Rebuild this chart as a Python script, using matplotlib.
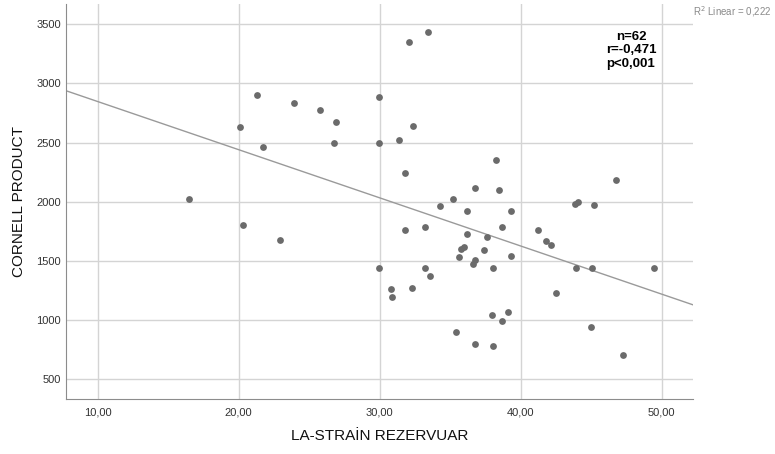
import numpy as np
import matplotlib
matplotlib.use("Agg")
import matplotlib.pyplot as plt
import matplotlib.ticker as ticker

plt.rcParams['font.family'] = ['Liberation Sans', 'DejaVu Sans']

# LA strain reservoir (%) vs Cornell product
la_strain = [16.45, 20.07, 21.30, 21.72, 20.30, 22.90, 23.90, 25.79, 26.88, 26.78,
             29.97, 29.97, 29.97, 30.80, 30.87, 31.39, 32.06, 33.40, 32.38, 31.77,
             36.74, 38.23, 38.48, 35.18, 34.28, 36.19, 39.29, 31.77, 33.19, 38.67,
             36.19, 37.59, 37.38, 35.79, 36.00, 35.60, 36.76, 36.60, 39.29, 33.19,
             33.59, 38.06, 32.29, 37.99, 39.08, 38.67, 35.43, 36.76, 38.06, 41.25,
             41.82, 42.17, 42.48, 43.90, 45.08, 49.48, 43.85, 44.09, 45.18, 46.74,
             44.96, 47.23]
cornell = [2025, 2633, 2904, 2465, 1801, 1680, 2833, 2771, 2670, 2498,
           2881, 2498, 1441, 1261, 1199, 2521, 3351, 3435, 2642, 2245,
           2116, 2350, 2099, 2023, 1964, 1922, 1922, 1762, 1787, 1787,
           1728, 1700, 1595, 1604, 1621, 1531, 1506, 1472, 1542, 1441,
           1373, 1441, 1272, 1042, 1067, 991, 901, 802, 785, 1762,
           1669, 1635, 1230, 1441, 1441, 1441, 1981, 2000, 1970, 2184,
           940, 704]

x_ticks = [10, 20, 30, 40, 50]
y_ticks = [500, 1000, 1500, 2000, 2500, 3000, 3500]
stats_text = "n=62\nr=-0,471\np<0,001"
r2_text = "R$^2$ Linear = 0,222"

x = np.array(la_strain)
y = np.array(cornell)

fig = plt.figure(figsize=(7.75, 4.54), dpi=100)
ax = fig.add_axes([0.0855, 0.121, 0.8085, 0.870])

ax.scatter(x, y, s=24, color='#6b6b6b', zorder=3, linewidths=0)

# least squares line over the full x range
slope, intercept = np.polyfit(x, y, 1)
xl = np.array([7.77, 52.2])
ax.plot(xl, intercept + slope * xl, color='#9a9a9a', lw=1.0, zorder=2)

ax.set_xlim(7.77, 52.2)
ax.set_ylim(334, 3669)
ax.set_xticks(x_ticks)
ax.set_yticks(y_ticks)
ax.xaxis.set_major_formatter(ticker.FuncFormatter(lambda v, p: f'{v:.2f}'.replace('.', ',')))
ax.grid(True, color='#d4d4d4', lw=1.0)
ax.set_axisbelow(True)
for s in ['top', 'right']:
    ax.spines[s].set_visible(False)
for s in ['left', 'bottom']:
    ax.spines[s].set_color('#8c8c8c')
ax.tick_params(length=0, labelsize=8, labelcolor='#333333')
ax.tick_params(axis='x', pad=6)
ax.tick_params(axis='y', pad=4)

ax.set_xlabel('LA-STRAİN REZERVUAR', fontsize=11, color='#111111', labelpad=8)
ax.set_ylabel('CORNELL PRODUCT', fontsize=11, color='#111111', labelpad=7)

fig.text(631 / 775, 1 - 31 / 454, stats_text, ha='center', va='top',
         fontsize=9.5, fontweight='bold', linespacing=1.15)
fig.text(693 / 775, 1 - 12 / 454, r2_text, ha='left', va='center',
         fontsize=7, color='#8a8a8a')

fig.savefig('out.png', dpi=100)
